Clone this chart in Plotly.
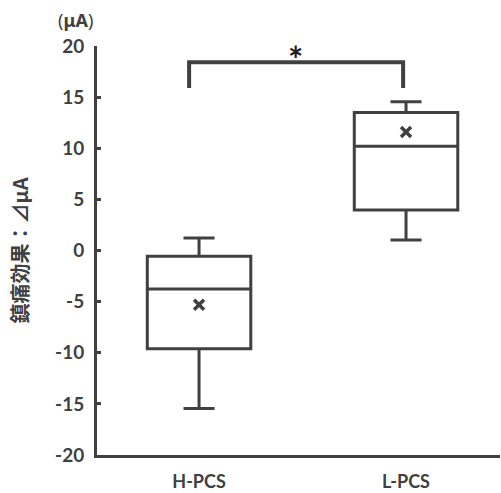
import plotly.graph_objects as go

categories = ["H-PCS", "L-PCS"]
lower_whisker = [-15.46, 1.03]
q1_vals = [-9.6, 3.96]
median_vals = [-3.76, 10.2]
q3_vals = [-0.57, 13.5]
upper_whisker = [1.22, 14.55]
mean_vals = [-5.3, 11.6]
y_ticks = [-20, -15, -10, -5, 0, 5, 10, 15, 20]

INK = "#404040"
FONT = "Lato"
CJK = "Noto Sans CJK JP"

positions = list(range(len(categories)))

fig = go.Figure()
fig.add_trace(go.Box(
    x=positions,
    q1=q1_vals, median=median_vals, q3=q3_vals,
    lowerfence=lower_whisker, upperfence=upper_whisker,
    width=0.5, whiskerwidth=0.3,
    fillcolor="white",
    line=dict(color=INK, width=3),
    boxpoints=False,
    showlegend=False, hoverinfo="skip",
))
fig.add_trace(go.Scatter(
    x=positions, y=mean_vals, mode="markers",
    marker=dict(symbol="x-thin", size=10, line=dict(color=INK, width=3.5)),
    showlegend=False, hoverinfo="skip",
))
# significance bracket
fig.add_trace(go.Scatter(
    x=[-0.048, -0.048, 0.986, 0.986], y=[15.9, 18.4, 18.4, 15.9],
    mode="lines", line=dict(color=INK, width=4),
    showlegend=False, hoverinfo="skip",
))
fig.add_annotation(x=0.464, y=19.4, text="<b>*</b>", showarrow=False,
                   font=dict(family=FONT, size=36, color="#1e1e1e"),
                   xanchor="center", yanchor="middle", yshift=-7)
fig.add_annotation(x=(75 - 97) / 403, y=1 + (46 - 20) / 409, xref="paper", yref="paper",
                   text="(<b>μA</b>)", showarrow=False,
                   xanchor="center", yanchor="middle",
                   font=dict(family="Noto Sans", size=18, color=INK))

fig.update_layout(
    width=501, height=493,
    margin=dict(l=97, r=1, t=46, b=38),
    paper_bgcolor="white", plot_bgcolor="white",
    font=dict(family=FONT, color=INK),
)
fig.update_xaxes(
    range=[-0.493, 1.454], showgrid=False, zeroline=False,
    tickvals=positions, ticktext=[f"<b>{c}</b>" for c in categories],
    tickfont=dict(family=FONT, size=18, color=INK),
    showline=True, linecolor=INK, linewidth=3, ticks="", ticklen=0,
    ticklabelstandoff=8,
)
fig.update_yaxes(
    range=[-20, 20], showgrid=False, zeroline=False,
    tickvals=y_ticks, ticktext=[f"<b>{v}</b>" for v in y_ticks],
    tickfont=dict(family=FONT, size=19, color=INK),
    showline=True, linecolor=INK, linewidth=3,
    ticks="inside", ticklen=4, tickwidth=3, tickcolor=INK,
    ticklabelstandoff=6,
    title=dict(text="<b>鎮痛効果：⊿μA</b>", font=dict(family=CJK, size=20, color=INK), standoff=22),
)
fig.write_html("out.html")
